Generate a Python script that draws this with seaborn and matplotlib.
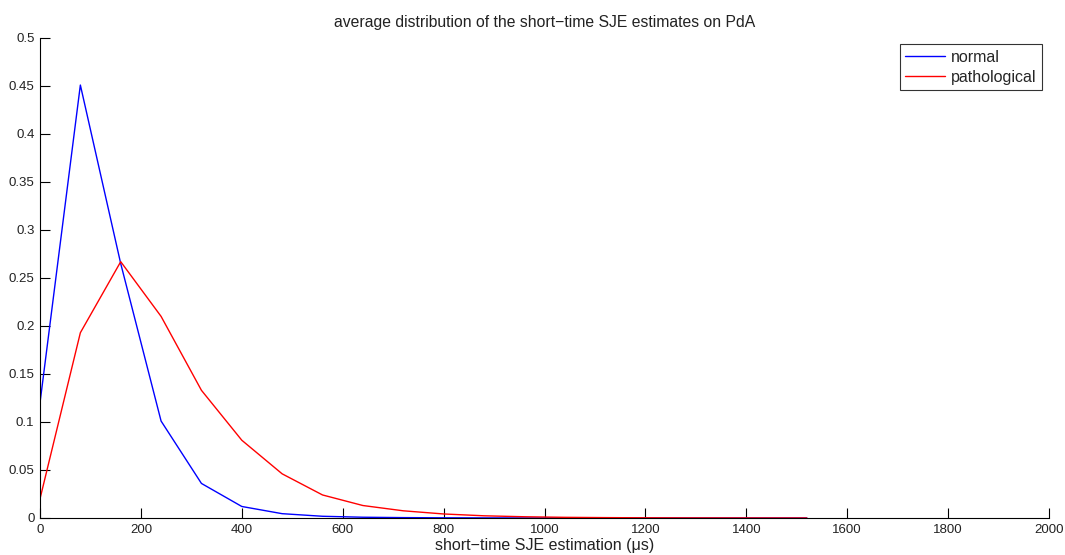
import matplotlib
matplotlib.use("Agg")
import matplotlib.pyplot as plt
import seaborn as sns
import pandas as pd
import numpy as np

x_vals = [0, 80, 160, 240, 320, 400, 480, 560, 640, 720, 800, 880, 960,
          1040, 1120, 1200, 1280, 1360, 1440, 1520]
normal = [0.12, 0.451, 0.265, 0.101, 0.036, 0.012, 0.0045, 0.0018, 0.0008,
          0.0004, 0.0002, 0.0001, 0.00005, 0.00003, 0.00002, 0.00001,
          0.0, 0.0, 0.0, 0.0]
pathological = [0.02, 0.193, 0.267, 0.21, 0.133, 0.081, 0.046, 0.024, 0.013,
                0.0075, 0.0042, 0.0023, 0.0013, 0.0007, 0.0004, 0.0002,
                0.0001, 0.00006, 0.00003, 0.00001]
series_names = ["normal", "pathological"]
colors = ["#0000ff", "#ff0000"]

df = pd.concat([
    pd.DataFrame({"x": x_vals, "y": normal, "series": series_names[0]}),
    pd.DataFrame({"x": x_vals, "y": pathological, "series": series_names[1]}),
])

sns.set_style("ticks")
plt.rcParams["font.family"] = ["Liberation Sans", "DejaVu Sans"]
plt.rcParams["font.size"] = 10

fig = plt.figure(figsize=(10.65, 5.55), dpi=100)
ax = fig.add_axes([40 / 1065, 37 / 555, 1009 / 1065, 480 / 555])

sns.lineplot(data=df, x="x", y="y", hue="series", palette=colors,
             linewidth=1.0, ax=ax, legend=True)

ax.set_xlim(0, 2000)
ax.set_ylim(0, 0.5)
ax.set_xticks(np.arange(0, 2001, 200))
ax.set_yticks(np.arange(0, 0.51, 0.05))
ax.set_yticklabels(["0", "0.05", "0.1", "0.15", "0.2", "0.25", "0.3", "0.35",
                    "0.4", "0.45", "0.5"])
ax.tick_params(direction="in", length=7.5, width=0.8, colors="black",
               labelsize=9.5, pad=3)
ax.tick_params(axis="x", labelcolor="#222222", pad=4)
ax.tick_params(axis="y", labelcolor="#222222", pad=4)
for s in ["top", "right"]:
    ax.spines[s].set_visible(False)
for s in ["left", "bottom"]:
    ax.spines[s].set_color("black")
    ax.spines[s].set_linewidth(0.8)

ax.set_xlabel("short\u2212time SJE estimation (\u03bcs)", fontsize=11.5,
              labelpad=2, color="#222222")
ax.set_ylabel("")
ax.set_title("average distribution of the short\u2212time SJE estimates on PdA",
             fontsize=11.3, pad=8, color="#222222")

leg = ax.legend(loc="upper right", bbox_to_anchor=(0.993, 0.987), fontsize=11.5,
                frameon=True, fancybox=False, edgecolor="black",
                borderpad=0.35, handlelength=2.5, labelspacing=0.3,
                handletextpad=0.35, borderaxespad=0.0)
leg.get_frame().set_linewidth(0.8)

fig.savefig("out.png", dpi=100)
